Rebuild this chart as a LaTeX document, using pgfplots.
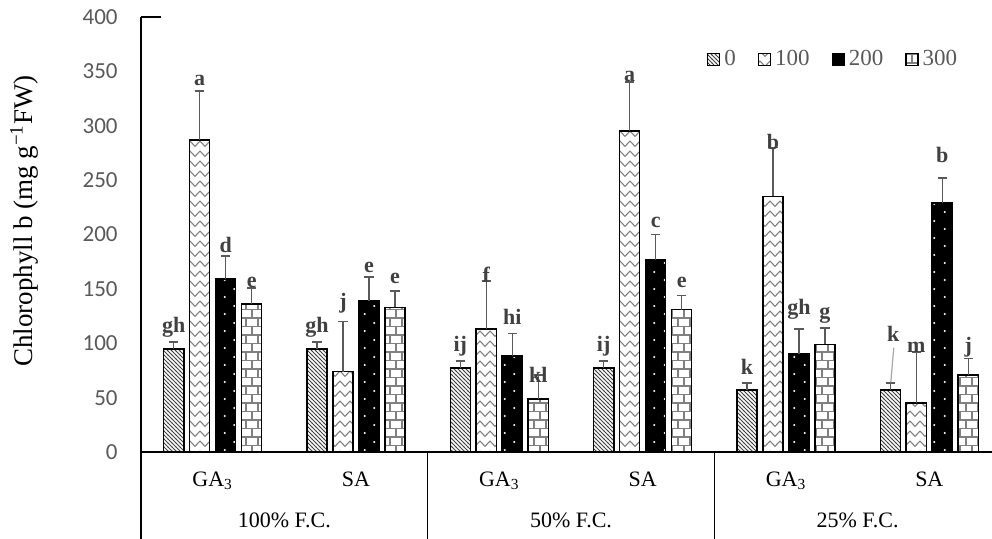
\documentclass[border=0pt]{standalone}
\usepackage{fontspec}
\setmainfont{Liberation Serif}
\newfontfamily\calibri{Carlito}
\usepackage{pgfplots}
\pgfplotsset{compat=1.18}
\usetikzlibrary{patterns}
\definecolor{tickgray}{HTML}{595959}
\definecolor{lettergray}{HTML}{404040}
\definecolor{errgray}{HTML}{595959}
\definecolor{patgray}{HTML}{808080}

\pgfdeclarepatternformonly{diagdense}{\pgfqpoint{-1pt}{-1pt}}{\pgfqpoint{3pt}{3pt}}{\pgfqpoint{2pt}{2pt}}{%
  \pgfsetlinewidth{0.45pt}%
  \pgfpathmoveto{\pgfqpoint{0pt}{2pt}}%
  \pgfpathlineto{\pgfqpoint{2.1pt}{-0.1pt}}%
  \pgfusepath{stroke}}
\pgfdeclarepatternformonly{chevron}{\pgfqpoint{-0.5pt}{-0.5pt}}{\pgfqpoint{5.5pt}{5.5pt}}{\pgfqpoint{5pt}{5pt}}{%
  \pgfsetlinewidth{0.55pt}%
  \pgfpathmoveto{\pgfqpoint{0pt}{4pt}}%
  \pgfpathlineto{\pgfqpoint{2.5pt}{1.3pt}}%
  \pgfpathlineto{\pgfqpoint{5pt}{4pt}}%
  \pgfusepath{stroke}}
\pgfdeclarepatternformonly{wdots}{\pgfqpoint{0pt}{0pt}}{\pgfqpoint{10pt}{8.5pt}}{\pgfqpoint{10pt}{8.5pt}}{%
  \pgfpathcircle{\pgfqpoint{2.5pt}{2.1pt}}{0.6pt}%
  \pgfpathcircle{\pgfqpoint{7.5pt}{6.35pt}}{0.6pt}%
  \pgfusepath{fill}}
\pgfdeclarepatternformonly{mybricks}{\pgfqpoint{-0.5pt}{-0.5pt}}{\pgfqpoint{6.5pt}{9pt}}{\pgfqpoint{6pt}{8.5pt}}{%
  \pgfsetlinewidth{0.55pt}%
  \pgfpathmoveto{\pgfqpoint{0pt}{0pt}}\pgfpathlineto{\pgfqpoint{6pt}{0pt}}%
  \pgfpathmoveto{\pgfqpoint{0pt}{4.25pt}}\pgfpathlineto{\pgfqpoint{6pt}{4.25pt}}%
  \pgfpathmoveto{\pgfqpoint{0pt}{0pt}}\pgfpathlineto{\pgfqpoint{0pt}{4.25pt}}%
  \pgfpathmoveto{\pgfqpoint{3pt}{4.25pt}}\pgfpathlineto{\pgfqpoint{3pt}{8.5pt}}%
  \pgfusepath{stroke}}

\pgfplotsset{sqlegend/.style={legend image code/.code={\draw[##1, line width=0.6pt] (0pt,-3pt) rectangle (6pt,3pt);}}}

\pgfplotstableread{
x      y      e
-0.272 94.7   6.5
0.728  94.7   6.5
1.728  77     6.5
2.728  77     6.5
3.728  57     6.5
4.728  57     6.5
}\sZero
\pgfplotstableread{
x      y      e
-0.0907 287   45
0.9093  74    46
1.9093  113   44
2.9093  295   45
3.9093  235   45
4.9093  45    47
}\sOne
\pgfplotstableread{
x      y      e
0.0907 159   21
1.0907 139   22
2.0907 88    21
3.0907 177   23
4.0907 90    23
5.0907 229   23
}\sTwo
\pgfplotstableread{
x      y      e
0.272  136   15
1.272  133   15
2.272  49    22
3.272  131   13
4.272  99    15
5.272  71    15
}\sThree

\pgfplotsset{mybar/.style={ybar, bar shift=0pt, bar width=0.14, draw=black, line width=0.8pt,
  /pgfplots/error bars/y dir=plus, /pgfplots/error bars/y explicit,
  /pgfplots/error bars/error mark=|,
  /pgfplots/error bars/error bar style={errgray, line width=0.8pt},
  /pgfplots/error bars/error mark options={errgray, line width=0.8pt, mark size=2.4pt}}}

\begin{document}
\begin{tikzpicture}
\path[use as bounding box] (-70.5pt,-43.5pt) rectangle (425.5pt,226pt);
\begin{axis}[
  at={(0pt,0pt)}, anchor=south west,
  scale only axis, width=430pt, height=217.5pt,
  xmin=-0.5, xmax=5.5, ymin=0, ymax=400,
  axis x line*=bottom, axis y line*=left,
  axis line style={line width=0.8pt, black},
  xtick=\empty,
  ytick={0,50,...,400},
  ytick style={draw=none},
  /pgf/number format/assume math mode=true,
  yticklabel style={font=\calibri\fontsize{11.5}{13}\selectfont, text=tickgray, inner sep=0pt, xshift=-11.5pt},
  ylabel={Chlorophyll b (mg g\textsuperscript{−1}FW)},
  ylabel style={at={(axis description cs:-0.1256,0.531)}, anchor=base, font=\fontsize{13.5}{16}\selectfont},
  clip=false,
  legend columns=4,
  legend style={at={(0.658,0.903)}, anchor=west, draw=none, fill=none,
    font=\fontsize{11.5}{13}\selectfont, text=tickgray, inner sep=0pt,
    /tikz/every even column/.append style={column sep=9pt},
    /tikz/every odd column/.append style={column sep=0pt}},
]

\addplot[mybar, pattern=diagdense, pattern color=lettergray, forget plot] table[x=x, y=y, y error=e] {\sZero};
\addplot[mybar, pattern=chevron, pattern color=patgray, forget plot] table[x=x, y=y, y error=e] {\sOne};
\addplot[mybar, fill=black, postaction={pattern=wdots, pattern color=white}, forget plot] table[x=x, y=y, y error=e] {\sTwo};
\addplot[mybar, pattern=mybricks, pattern color=patgray, forget plot] table[x=x, y=y, y error=e] {\sThree};

\addlegendimage{sqlegend, draw=black, pattern=diagdense, pattern color=lettergray}
\addlegendentry{0}
\addlegendimage{sqlegend, draw=black, pattern=chevron, pattern color=patgray}
\addlegendentry{100}
\addlegendimage{sqlegend, draw=black, fill=black, postaction={pattern=wdots, pattern color=white}}
\addlegendentry{200}
\addlegendimage{sqlegend, draw=black, pattern=mybricks, pattern color=patgray}
\addlegendentry{300}

% letters
\begin{scope}[every node/.style={font=\bfseries\fontsize{11}{13}\selectfont, text=lettergray, inner sep=0pt}]
\node at (axis cs:-0.272,115) {gh};
\node at (axis cs:-0.0907,342) {a};
\node at (axis cs:0.0907,190) {d};
\node at (axis cs:0.272,156) {e};
\node at (axis cs:0.728,115) {gh};
\node at (axis cs:0.9093,137) {j};
\node at (axis cs:1.0907,170) {e};
\node at (axis cs:1.272,160) {e};
\node at (axis cs:1.728,97) {ij};
\node at (axis cs:1.9093,163) {f};
\node at (axis cs:2.0907,124) {hi};
\node at (axis cs:2.272,71) {kl};
\node at (axis cs:2.728,97) {ij};
\node at (axis cs:2.9093,345) {a};
\node at (axis cs:3.0907,211) {c};
\node at (axis cs:3.272,156) {e};
\node at (axis cs:3.728,78) {k};
\node at (axis cs:3.9093,285) {b};
\node at (axis cs:4.0907,131) {gh};
\node at (axis cs:4.272,126) {g};
\node at (axis cs:4.748,109) {k};
\node at (axis cs:4.9093,96) {m};
\node at (axis cs:5.0907,273) {b};
\node at (axis cs:5.272,96) {j};
\end{scope}
\draw[gray!70, line width=0.6pt] (axis cs:4.752,96) -- (axis cs:4.731,64);

% axis decorations
\draw[line width=0.8pt] (axis cs:-0.5,400) -- ++(10pt,0pt);
\draw[line width=0.8pt] (axis cs:-0.5,0) -- ++(0pt,-43.5pt);
\draw[line width=0.8pt] (axis cs:1.5,0) -- ++(0pt,-43.5pt);
\draw[line width=0.8pt] (axis cs:3.5,0) -- ++(0pt,-43.5pt);
\draw[line width=0.8pt] (axis cs:5.5,0) -- ++(0pt,-43.5pt);
\begin{scope}[every node/.style={font=\fontsize{11}{13}\selectfont, anchor=base}]
\node[yshift=-17.3pt] at (axis cs:0,0) {GA\textsubscript{3}};
\node[yshift=-17.3pt] at (axis cs:1,0) {SA};
\node[yshift=-17.3pt] at (axis cs:2,0) {GA\textsubscript{3}};
\node[yshift=-17.3pt] at (axis cs:3,0) {SA};
\node[yshift=-17.3pt] at (axis cs:4,0) {GA\textsubscript{3}};
\node[yshift=-17.3pt] at (axis cs:5,0) {SA};
\node[yshift=-38pt] at (axis cs:0.5,0) {100\% F.C.};
\node[yshift=-38pt] at (axis cs:2.5,0) {50\% F.C.};
\node[yshift=-38pt] at (axis cs:4.5,0) {25\% F.C.};
\end{scope}
\end{axis}
\end{tikzpicture}
\end{document}
